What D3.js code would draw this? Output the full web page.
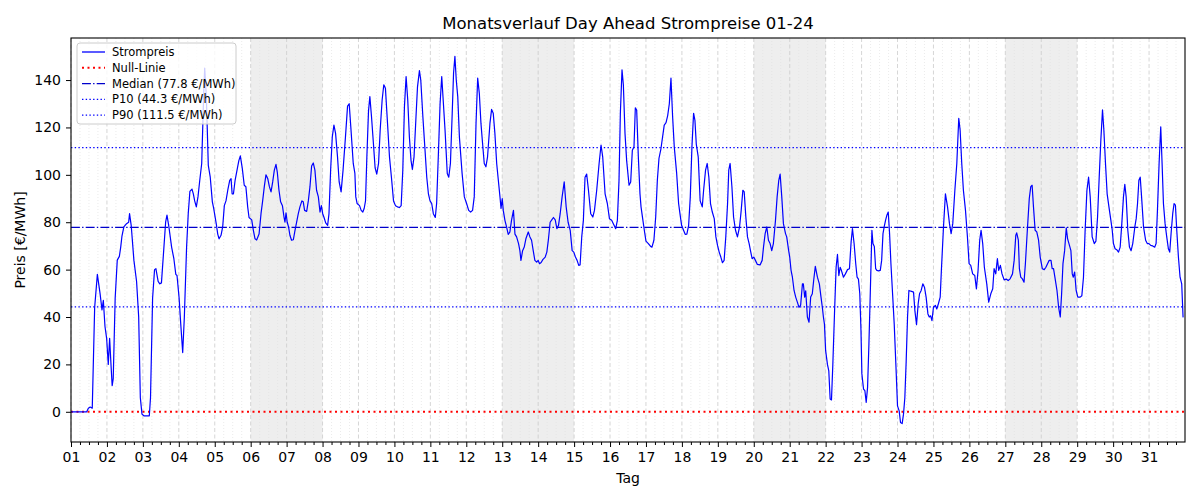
<!DOCTYPE html>
<html>
<head>
<meta charset="utf-8">
<script src="https://cdn.jsdelivr.net/npm/d3@7"></script>
<style>
  body { margin: 0; background: white; }
  text { font-family: "DejaVu Sans", sans-serif; }
</style>
</head>
<body>
<div id="plot"></div>
<script>
// Stunden ab 01.01. 00:00 und Preis in €/MWh
const stunden = [
  0,5,10.5,11.6,12.8,14.2,15.8,17.6,19.4,20.7,21.6,22.7,23.8,
  24.9,25.8,26.7,27.5,28.2,29.5,30.9,32.3,33.2,34,35.3,37.1,38.5,39.1,40.2,42,43.8,45.2,46.3,47.4,
  48.7,52.3,53.1,54.5,55.8,56.7,58.2,59.3,60.4,61.9,63.2,64.1,65.4,67.2,68.7,70,70.8,
  72.2,73.3,74.6,75.7,77.2,78.3,79.4,80.8,81.7,82.6,83.7,84.8,86,87.3,88.7,89.3,90.4,91.7,93,94.4,95.3,
  97.1,98,98.9,100.2,101.3,102.4,103.5,104.7,106,106.9,107.6,108.5,109.6,111.2,112.1,113.1,114.4,115.7,116.8,118,118.9,
  120.7,121.8,122.9,124,125.6,126.9,128,129.1,130.2,131.4,132.5,133.6,134.7,135.8,136.9,137.8,138.9,140,141.2,142.3,142.9,143.6,
  144.4,145.3,146.2,147.3,148.5,149.6,150.7,151.8,152.9,154.2,155.1,156,157.4,158.5,159.6,160.7,161.8,162.9,164,165.2,166.3,167.2,168.1,
  169,170.1,171.4,172.3,173.4,174.5,175.6,176.7,178,179.1,180.4,181.7,183.3,184.7,185.8,186.9,188.5,189.6,190.2,191.1,
  192.7,193.8,194.9,195.8,196.7,197.6,198.7,199.6,200.7,202,203.1,204.2,205.4,206.5,207.8,208.9,210,211.4,212.7,214,215.4,
  216.7,218,219.3,220.5,221.6,222.7,223.8,224.9,226,227.1,228,229.1,230.3,231.4,232.7,233.6,235,236.3,237.6,238.7,239.8,
  240.9,242,243.3,244.2,245.3,246.5,247.6,249.8,251.3,252.3,253.4,254.6,255.5,256.4,257.3,258.3,259.4,261.2,262.7,
  264.2,265.6,266.9,268.2,269.3,270.5,271.6,272.7,273.8,274.9,276,277.1,278.2,279.8,280.9,282,283.1,284.3,285.4,286.5,287.2,288,
  288.7,289.8,290.9,292,293.1,294.2,295.5,296.5,297.6,298.9,299.8,300.5,301.6,302.7,303.8,305.4,306.5,307.6,308.7,309.8,311,
  312,312.9,314,315.1,316.7,317.8,318.9,320,321.1,322.2,323.4,324.5,325.6,326.7,328,329.4,330.7,332,333.4,334.7,335.8,
  336.9,338,339.1,340,341.1,342.2,343.3,344.4,345.6,347.1,348.5,349.6,351.1,352.7,354,355.1,356.7,358.2,359.6,
  361.1,362.2,363.8,364.9,366,366.9,368,368.9,370,371.1,372.7,373.8,374.9,376,376.9,377.8,378.9,380,380.7,381.8,382.9,
  384,385.6,387.1,388,389.3,390.5,391.6,392.7,394,395.1,396.2,397.4,398.5,399.6,400.7,401.8,402.9,404.5,405.8,406.7,407.8,
  409.1,410.2,411.3,412.5,413.6,414.7,415.8,416.7,417.6,418.9,420.2,421.6,422.5,423.8,424.9,426,427.1,428.3,429.6,430.7,431.8,
  432.9,434,435.1,436.2,437.3,438.5,439.3,440.2,441.4,442.5,443.8,445.1,446.5,447.6,448.7,449.6,450.7,451.8,452.9,454,454.9,
  456,457.1,458.4,460.2,461.6,462.5,463.6,464.7,465.8,466.9,468,469.1,470.5,471.6,472.7,473.6,474.7,475.8,477.2,478,479.3,
  480,480.9,481.8,482.9,484,485.1,486.2,487.3,488.5,489.1,490,490.7,491.8,492.9,494,495.1,496,497.1,498.5,499.8,500.9,501.8,502.5,503.2,504,
  505.2,506.1,507,507.9,508.8,509.9,511,511.9,512.8,513.7,514.5,515.9,517.2,518.6,519.9,521,521.9,523,524.1,525,525.9,526.8,527.6,
  528.2,529.3,530.2,531.1,532,532.9,533.8,534.9,535.6,536.5,537.4,538.2,539.4,540.5,541.4,542.3,543.1,544,544.9,545.8,546.7,547.6,548.7,549.8,550.9,
  552,553.1,554,555.1,556,556.9,557.8,558.7,559.6,560.5,561.4,562.7,563.6,564.7,565.8,566.7,567.8,568.9,570,571.1,572.3,573.2,574.1,575,
  576,577.3,578.2,579.3,580.5,581.3,582.7,584,585.4,586.7,587.8,588.9,590.3,591.6,592.9,593.8,594.9,596,597.4,598.7,599.8,
  600.9,602.2,603.6,604.7,605.8,606.9,607.8,608.9,610,611.6,612.9,614.3,615.6,616.5,617.6,618.7,619.6,620.7,621.8,623.2,
  624.6,625.9,627.2,628.8,629.9,631,631.6,632.7,633.4,634.3,635.4,636.5,637.4,638.7,640,641,641.9,642.8,643.9,645,646.2,647.3,
  648.7,650,651.1,652.2,653.3,654.5,655.3,656.2,657.1,658.5,659.6,660.7,661.6,662.5,663.6,664.7,665.6,666.5,667.8,668.7,669.4,670.3,671.3,
  672.4,674,675.1,676.2,677.3,678.5,679.6,680.7,682,683.4,684.5,685.6,686.7,687.8,688.9,689.8,690.9,692,693.2,694.5,695.4,
  696.2,697.3,698.4,699.6,700.7,701.8,702.9,703.8,704.7,705.8,706.9,708,709.1,710.5,711.4,712.3,713.2,714.1,715,716.3,717.7,718.8,719.9,
  721.1,722.4,723.8,724.7,725.6,726.7,727.8,728.7,729.6,730.7,731.8,732.9,733.8,734.7,735.8,736.7,737.6,738.5,739.6,740.7,741.8,742.7,743
];
const preise = [
  0,0,0,1.5,2,1.5,44,58,50,43,47,36,31,
  20,31,20,11,14,48,64,65.6,69.5,74,78,79.4,80,83.6,78.7,64,55,40,6,-1,
  -1.7,-1.7,6,48,60,60.4,55,54,54.4,68,80,83,78,69.5,64.6,58,57.5,
  48,37,25,40,69.5,83.6,93,94,92,89,86.5,90.7,97.7,104.8,136,145,133,104,99,88.6,85.8,
  79,75,73,74.5,78,87,89,93.5,97.7,98.4,92,92,97.7,103,106,108,102.7,95.6,95,86.5,82,
  81,76.6,73,72.5,75,83.6,89,95,100,98.4,95,92.8,97,102,104.4,101,93.5,88.6,87,82,80,84,
  80,78,74.5,72.4,72.6,76.6,80,83.6,86.5,89,88.6,85,84.6,89,95,103.7,105,102,93.5,90.7,84.3,87,83.6,
  82,79.7,78.7,83.6,102,116,121,117.5,107.6,97,92.8,102,116,129,130,120,104.8,100.6,90.7,87.9,
  87,85,84.3,85.8,89,107.6,127,133,124.5,113,103,100.3,104.8,119,131.6,138,136.5,121.7,107.6,99,89,
  87,86.5,86.2,87,102,128.8,141.5,131.6,116,106,102.3,107.6,123,137,144,140,124.5,111.8,99,92,89,
  87.9,83.6,82,88,107.6,130,141.5,119,100.6,99,104.8,126,143,150,140,133,116,100.6,90.7,
  87.9,85,84.3,85,90.7,121.7,140.8,134.4,121.7,113,104.8,103.4,107.6,121.7,127.6,126,117.5,104.8,97.7,90.7,85.8,90,
  85,80.8,78,74.9,75.8,80.8,85,75,73.8,71,68,63.9,68,69.5,73,75.9,73.8,72.4,68,63.9,63.2,
  63.9,62.5,63,64.2,65.3,67.4,73,80,81,82,81,77.3,78.7,83.6,90.7,97,86.5,80,76.6,68,67.4,
  65.3,63.9,61.8,62,73.8,80.8,99,100.3,93.5,83.6,82.2,85,93.5,104.8,112.6,107.6,92,87.9,81.5,
  80.8,79.4,77.3,80.8,97.7,126,144.3,138,117.5,106,95.6,97,110.4,111.8,128.3,127.3,107.6,92,86.5,81.5,76.6,
  72,71,69.8,69.5,72.4,82.2,97.7,107,111,116,121,122,125,130,140.8,124.5,111.8,100.6,87.9,83.6,78.7,
  76.6,74.9,75,78.7,90.7,111.8,126,123,113,107.6,89,86.5,93.5,102,104.8,99,87.9,84.3,81.5,73.8,70.2,
  67.4,65.3,62.9,63.9,73.8,87.9,102,104.8,95,82.2,76.6,73.8,78,85,93.5,92.8,82.2,73.8,71,67.4,64.6,
  65.3,63.9,62.2,62,63.9,69.5,75.2,78,72.4,71,68,71,80.8,90.7,97.7,100.3,90.7,79.4,75.2,73.8,68,
  65.3,59.7,56.8,51.2,48.4,46.3,44.1,45,54,54,48.4,51,40,37.8,48.4,49.8,55.4,61.4,56.8,54,48.4,44,40,37,25.8,
  20,17.3,5.4,5,20,41.3,61,66.4,57.5,61,59.7,56.8,58.2,60,60.4,71.6,77.3,71,62.5,56.8,56,49.8,34.3,
  16,9.6,8.9,4,10.3,28.6,49.8,76.6,71,69.8,60.4,59.7,59.5,59.7,63.9,75.2,78,80.8,83,84.3,75.2,62.5,49.8,37,20,
  2.5,0.4,-4.5,-5,-1,6,21.6,40,51.2,51,50.8,50.5,42.7,36.8,45.6,49.8,51.2,54,52.6,48.4,41.3,40,40.5,38.5,
  44.1,44.9,43.4,45.6,48.4,59.7,78,92,86.5,79.4,75.2,79.4,93.5,104.8,123.8,119,104.8,93.5,85,73.8,62.5,
  61.8,58.2,57.5,51.9,59.7,72.4,76.6,71,61,54,46.3,49.8,51.9,60.4,58.2,64.6,59.7,61.8,58.2,55.7,
  56,55.4,56.1,58.2,63.9,74.5,75.5,72.4,60.4,56.8,56.1,54.7,62.5,76.6,90,95,95.6,86.5,76.6,75.9,72.4,65.3,
  60.4,60,61,62.5,63.9,63.9,60.4,60.4,56.8,51.2,44.1,40,49.8,62.5,68,77.6,73,71,68,58.2,56.8,59,51.2,
  48.4,48.4,49,56.8,76.6,93.5,99,90.7,73.8,71,72,82.2,99,114.7,127.4,119,104.8,92,86.5,80.8,76.6,
  71,68.8,68.4,67.4,69.5,79.4,90.7,96,90.7,76.6,69.5,68,71,78,81.5,87.9,97.7,99,90.7,78,72.4,71,71,
  70.2,70,69.5,71,85,104.8,120.3,104.8,87.9,79.4,73.8,68.8,67.4,75.2,83.6,87.9,87.2,76.6,65.3,56.8,54,40,40
];

const tage = d3.range(1, 32).map(d => String(d).padStart(2, "0"));
const wochenenden = [6, 13, 20, 27];   // Samstag, Sonntag folgt
const medianWert = 77.8;
const p10Wert = 44.3;
const p90Wert = 111.5;
const yTicks = [0, 20, 40, 60, 80, 100, 120, 140];

const w = 1200;
const h = 500;
const margin = {top: 38, right: 15, bottom: 58, left: 71};

const svg = d3.select("#plot").append("svg")
  .attr("width", w)
  .attr("height", h);

const x = d3.scaleLinear().domain([0, 744]).range([margin.left, w - margin.right]);
const y = d3.scaleLinear().domain([-12.75, 157.75]).range([h - margin.bottom, margin.top]);

const plotTop = margin.top, plotBottom = h - margin.bottom;

// Wochenenden grau hinterlegen
svg.selectAll(".we")
  .data(wochenenden)
  .enter().append("rect")
  .attr("x", d => x((d - 1) * 24))
  .attr("y", plotTop)
  .attr("width", d => x((d + 1) * 24) - x((d - 1) * 24))
  .attr("height", plotBottom - plotTop)
  .attr("fill", "#eeeeee");

// Raster: Tage gestrichelt, 6h gepunktet
const minorStunden = d3.range(0, 744, 6).filter(s => s % 24 !== 0);
svg.selectAll(".minorgrid")
  .data(minorStunden)
  .enter().append("line")
  .attr("x1", d => x(d)).attr("x2", d => x(d))
  .attr("y1", plotTop).attr("y2", plotBottom)
  .attr("stroke", "#e3e3e3")
  .attr("stroke-width", 0.7)
  .attr("stroke-dasharray", "1,2");

svg.selectAll(".majorgrid")
  .data(d3.range(0, 744, 24))
  .enter().append("line")
  .attr("x1", d => x(d)).attr("x2", d => x(d))
  .attr("y1", plotTop).attr("y2", plotBottom)
  .attr("stroke", "#cccccc")
  .attr("stroke-width", 0.8)
  .attr("stroke-dasharray", "4,2.5");

// Referenzlinien
function hLinie(v, color, width, dash) {
  svg.append("line")
    .attr("x1", x(0)).attr("x2", x(744))
    .attr("y1", y(v)).attr("y2", y(v))
    .attr("stroke", color)
    .attr("stroke-width", width)
    .attr("stroke-dasharray", dash);
}
hLinie(0, "red", 2, "2,3.5");
hLinie(medianWert, "#0000cc", 1.2, "8.9,2.2,1.4,2.2");
hLinie(p10Wert, "blue", 1.2, "1.4,2.3");
hLinie(p90Wert, "blue", 1.2, "1.4,2.3");

// Preisverlauf
const linie = d3.line()
  .x((d, i) => x(stunden[i]))
  .y(d => y(d));

svg.append("path")
  .datum(preise)
  .attr("d", linie)
  .attr("fill", "none")
  .attr("stroke", "blue")
  .attr("stroke-width", 1.2)
  .attr("stroke-linejoin", "round");

// Achsen
const xAxis = d3.axisBottom(x)
  .tickValues(d3.range(0, 744, 24))
  .tickFormat((d, i) => tage[i])
  .tickSize(5)
  .tickPadding(5);

const gx = svg.append("g")
  .attr("transform", `translate(0,${plotBottom})`)
  .call(xAxis);

svg.append("g")
  .attr("transform", `translate(0,${plotBottom})`)
  .call(d3.axisBottom(x).tickValues(minorStunden).tickSize(3).tickFormat(""))
  .call(g => g.select(".domain").remove());

const gy = svg.append("g")
  .attr("transform", `translate(${margin.left},0)`)
  .call(d3.axisLeft(y).tickValues(yTicks).tickSize(5).tickPadding(5));

svg.selectAll(".tick text")
  .attr("font-size", 14)
  .attr("fill", "#000")
  .style("font-family", "DejaVu Sans");
svg.selectAll(".tick line").attr("stroke", "#000").attr("stroke-width", 1);
gx.select(".domain").remove();
gy.select(".domain").remove();

// Rahmen
svg.append("rect")
  .attr("x", x(0)).attr("y", plotTop)
  .attr("width", x(744) - x(0))
  .attr("height", plotBottom - plotTop)
  .attr("fill", "none")
  .attr("stroke", "#000")
  .attr("stroke-width", 1.1);

// Beschriftungen
svg.append("text")
  .attr("x", (x(0) + x(744)) / 2)
  .attr("y", 29)
  .attr("text-anchor", "middle")
  .attr("font-size", 16.5)
  .text("Monatsverlauf Day Ahead Strompreise 01-24");

svg.append("text")
  .attr("x", (x(0) + x(744)) / 2)
  .attr("y", 483)
  .attr("text-anchor", "middle")
  .attr("font-size", 14)
  .text("Tag");

svg.append("text")
  .attr("transform", `translate(25,${(plotTop + plotBottom) / 2}) rotate(-90)`)
  .attr("text-anchor", "middle")
  .attr("font-size", 14)
  .text("Preis [€/MWh]");

// Legende
const legendeEintraege = [
  {label: "Strompreis", color: "blue", width: 1.3, dash: null},
  {label: "Null-Linie", color: "red", width: 2, dash: "2,3.5"},
  {label: "Median (77.8 €/MWh)", color: "#0000cc", width: 1.3, dash: "8.9,2.2,1.4,2.2"},
  {label: "P10 (44.3 €/MWh)", color: "blue", width: 1.2, dash: "1.4,2.3"},
  {label: "P90 (111.5 €/MWh)", color: "blue", width: 1.2, dash: "1.4,2.3"}
];

const legende = svg.append("g").attr("transform", "translate(77,43)");
legende.append("rect")
  .attr("width", 159).attr("height", 81)
  .attr("rx", 3)
  .attr("fill", "white").attr("fill-opacity", 0.8)
  .attr("stroke", "#cccccc");

legendeEintraege.forEach((e, i) => {
  const yy = 9 + i * 15.8;
  legende.append("line")
    .attr("x1", 5).attr("x2", 28)
    .attr("y1", yy).attr("y2", yy)
    .attr("stroke", e.color)
    .attr("stroke-width", e.width)
    .attr("stroke-dasharray", e.dash);
  legende.append("text")
    .attr("x", 35).attr("y", yy + 4)
    .attr("font-size", 11.5)
    .text(e.label);
});
</script>
</body>
</html>
